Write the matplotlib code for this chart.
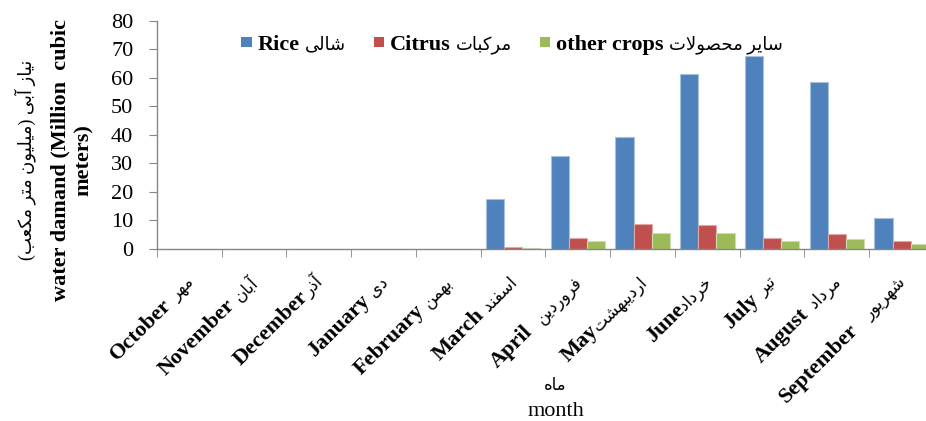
import unicodedata
import matplotlib
matplotlib.use("Agg")
import matplotlib.pyplot as plt
import matplotlib.transforms as mtransforms
from matplotlib.offsetbox import (AnchoredOffsetbox, DrawingArea, HPacker,
                                  TextArea)
from matplotlib.patches import Rectangle
import numpy as np

# -------------------------------
# Data
# -------------------------------

months_en = ["October", "November", "December", "January", "February", "March",
             "April", "May", "June", "July", "August", "September"]
months_fa = ["مهر", "آبان", "آذر", "دی", "بهمن", "اسفند",
             "فروردین", "اردیبهشت", "خرداد", "تیر", "مرداد", "شهریور"]
# gap (px) between the English and Persian part of each month label
month_gaps = [6, 6, 1, 6, 6, 6, 12, 0, 0, 6, 8, 15]

rice = [0, 0, 0, 0, 0, 17.5, 32.5, 39.3, 61.5, 67.6, 58.5, 10.8]
citrus = [0, 0, 0, 0, 0, 0.6, 4.0, 8.7, 8.3, 4.0, 5.3, 2.7]
other = [0, 0, 0, 0, 0, 0.5, 2.7, 5.6, 5.6, 2.7, 3.5, 1.9]

series_en = ["Rice", "Citrus", "other crops"]
series_fa = ["شالی", "مرکبات", "سایر محصولات"]
colors = ["#4F81BD", "#C0504D", "#9BBB59"]
edges = ["#A7C0DE", "#E0A8A6", "#CDDDAC"]

ylabel_fa = "نیاز آبی (میلیون متر مکعب)"
ylabel_en = "water damand (Million  cubic\nmeters)"
xlabel_fa = "ماه"
xlabel_en = "month"

# -------------------------------
# Tiny Persian shaper (no bidi libs available)
# -------------------------------

# isolated, final, initial, medial
FORMS = {
    "\u0627": (0xFE8D, 0xFE8E, None, None),
    "\u0622": (0xFE81, 0xFE82, None, None),
    "\u0628": (0xFE8F, 0xFE90, 0xFE91, 0xFE92),
    "\u062A": (0xFE95, 0xFE96, 0xFE97, 0xFE98),
    "\u062D": (0xFEA1, 0xFEA2, 0xFEA3, 0xFEA4),
    "\u062E": (0xFEA5, 0xFEA6, 0xFEA7, 0xFEA8),
    "\u062F": (0xFEA9, 0xFEAA, None, None),
    "\u0630": (0xFEAB, 0xFEAC, None, None),
    "\u0631": (0xFEAD, 0xFEAE, None, None),
    "\u0632": (0xFEAF, 0xFEB0, None, None),
    "\u0633": (0xFEB1, 0xFEB2, 0xFEB3, 0xFEB4),
    "\u0634": (0xFEB5, 0xFEB6, 0xFEB7, 0xFEB8),
    "\u0635": (0xFEB9, 0xFEBA, 0xFEBB, 0xFEBC),
    "\u0639": (0xFEC9, 0xFECA, 0xFECB, 0xFECC),
    "\u0641": (0xFED1, 0xFED2, 0xFED3, 0xFED4),
    "\u06A9": (0xFB8E, 0xFB8F, 0xFB90, 0xFB91),
    "\u0644": (0xFEDD, 0xFEDE, 0xFEDF, 0xFEE0),
    "\u0645": (0xFEE1, 0xFEE2, 0xFEE3, 0xFEE4),
    "\u0646": (0xFEE5, 0xFEE6, 0xFEE7, 0xFEE8),
    "\u0647": (0xFEE9, 0xFEEA, 0xFEEB, 0xFEEC),
    "\u0648": (0xFEED, 0xFEEE, None, None),
    "\u06CC": (0xFBFC, 0xFBFD, 0xFBFE, 0xFBFF),
}
LAM_ALEF = {"\u0627": (0xFEFB, 0xFEFC), "\u0622": (0xFEF5, 0xFEF6)}


def fa(text):
    text = unicodedata.normalize("NFC", text)
    text = text.replace("\u064A", "\u06CC").replace("\u0649", "\u06CC").replace("\u0643", "\u06A9")
    chars = list(text)
    n = len(chars)
    out = []
    i = 0
    while i < n:
        c = chars[i]
        prev = chars[i - 1] if i > 0 else None
        join_prev = prev in FORMS and FORMS[prev][2] is not None
        if c == "\u0644" and i + 1 < n and chars[i + 1] in LAM_ALEF:
            lig = LAM_ALEF[chars[i + 1]]
            out.append(chr(lig[1] if join_prev else lig[0]))
            i += 2
            continue
        if c not in FORMS:
            out.append(c)
            i += 1
            continue
        f = FORMS[c]
        nxt = chars[i + 1] if i + 1 < n else None
        join_next = f[2] is not None and nxt in FORMS
        if join_prev and join_next:
            g = f[3]
        elif join_prev:
            g = f[1]
        elif join_next:
            g = f[2]
        else:
            g = f[0]
        out.append(chr(g))
        i += 1
    mirror = {"(": ")", ")": "("}
    return "".join(mirror.get(ch, ch) for ch in reversed(out))


# -------------------------------
# Plot
# -------------------------------

FAM = ["Liberation Serif", "DejaVu Sans"]
plt.rcParams["font.family"] = FAM
plt.rcParams["font.size"] = 16

EN = dict(family=FAM, fontweight="bold", fontsize=16)
FA = dict(family=FAM, fontsize=12)

fig = plt.figure(figsize=(9.26, 4.21), dpi=100)
ax = fig.add_axes([0.1695, 0.4086, 0.8391, 0.5416])

x = np.arange(len(months_en))
w = 0.28
for k, (vals, col, ec) in enumerate(zip([rice, citrus, other], colors, edges)):
    ax.bar(x + (k - 1) * w, vals, width=w, color=col, edgecolor=ec, linewidth=0.8)

ax.set_xlim(-0.5, 11.5)
ax.set_ylim(0, 80)
ax.set_yticks(np.arange(0, 81, 10))
ax.tick_params(axis="y", length=6, color="#868686", pad=11, labelsize=16)

ax.set_xticks(x)
ax.set_xticklabels([])
ax.set_xticks(np.arange(-0.5, 12, 1), minor=True)
ax.tick_params(axis="x", which="major", length=0)
ax.tick_params(axis="x", which="minor", length=6, color="#868686")

for s in ["top", "right"]:
    ax.spines[s].set_visible(False)
for s in ["left", "bottom"]:
    ax.spines[s].set_color("#868686")
    ax.spines[s].set_linewidth(1.0)

# month labels: Persian part ends at the anchor, bold English part before it
renderer = fig.canvas.get_renderer()
c45 = np.cos(np.pi / 4)
ANCHOR_X, ANCHOR_Y = 5, -34   # pixels from the category centre on the x axis
fa_labels = [fa(p) for p in months_fa]
widths = []
for s in fa_labels:
    tmp = fig.text(0, 0, s, **FA)
    widths.append(tmp.get_window_extent(renderer).width)
    tmp.remove()

for i, (en, s, gap, wp) in enumerate(zip(months_en, fa_labels, month_gaps, widths)):
    base = mtransforms.offset_copy(ax.get_xaxis_transform(), fig=fig,
                                   x=ANCHOR_X, y=ANCHOR_Y, units="dots")
    ax.text(i, 0, s, transform=base, rotation=45, rotation_mode="anchor",
            ha="right", va="baseline", **FA)
    d = (wp + gap) * c45
    tr = mtransforms.offset_copy(ax.get_xaxis_transform(), fig=fig,
                                 x=ANCHOR_X - d, y=ANCHOR_Y - d, units="dots")
    ax.text(i, 0, en, transform=tr, rotation=45, rotation_mode="anchor",
            ha="right", va="baseline", **EN)

# legend: square + bold English + Persian
entries = []
for en, p, col in zip(series_en, series_fa, colors):
    da = DrawingArea(7.5, 10, 0, 0)
    da.add_artist(Rectangle((0, 2), 7.5, 7.5, facecolor=col, edgecolor="none"))
    entries.append(HPacker(children=[da,
                                     TextArea(en, textprops=EN),
                                     TextArea(fa(p), textprops=dict(family=FAM, fontsize=13))],
                           sep=4, align="baseline", pad=0))
legend_box = HPacker(children=entries, sep=20, align="baseline", pad=0)
anchored = AnchoredOffsetbox(loc="center", child=legend_box, pad=0, borderpad=0,
                             frameon=False, bbox_to_anchor=(0.457, 0.895),
                             bbox_transform=ax.transAxes)
ax.add_artist(anchored)

fig.text(0.027, 0.62, fa(ylabel_fa), rotation=90, ha="center", va="center", fontsize=13)
fig.text(0.078, 0.62, ylabel_en, rotation=90, ha="center", va="center",
         fontweight="bold", fontsize=16, multialignment="center", linespacing=1.25)

fig.text(0.600, 1 - 386 / 421, fa(xlabel_fa), ha="center", va="center", fontsize=12)
fig.text(0.600, 1 - 411 / 421, xlabel_en, ha="center", va="center", fontsize=16)

fig.savefig("out.png", dpi=100)
